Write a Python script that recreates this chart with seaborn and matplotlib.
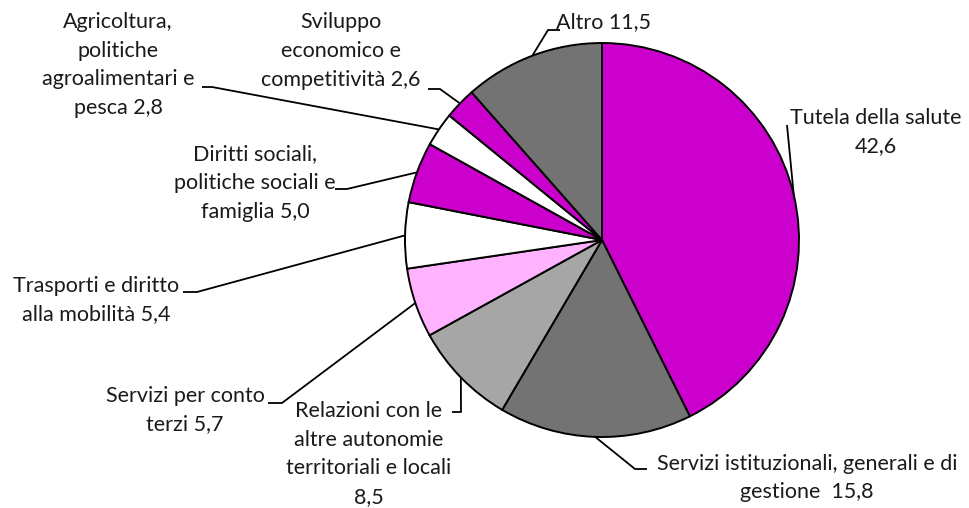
import matplotlib
matplotlib.use("Agg")
import matplotlib.pyplot as plt
import numpy as np
import seaborn as sns

# Spending shares by mission (%)
names = [
    "Tutela della salute",
    "Servizi istituzionali, generali e di\ngestione",
    "Relazioni con le\naltre autonomie\nterritoriali e locali",
    "Servizi per conto\nterzi",
    "Trasporti e diritto\nalla mobilità",
    "Diritti sociali,\npolitiche sociali e\nfamiglia",
    "Agricoltura,\npolitiche\nagroalimentari e\npesca",
    "Sviluppo\neconomico e\ncompetitività",
    "Altro",
]
values = [42.6, 15.8, 8.5, 5.7, 5.4, 5.0, 2.8, 2.6, 11.5]
value_sep = ["\n", "  ", "\n", " ", " ", " ", " ", " ", " "]
colors = ["#CC00CC", "#737373", "#A6A6A6", "#FFB3FF", "#FFFFFF",
          "#CC00CC", "#FFFFFF", "#CC00CC", "#737373"]

# Label placement (pixel coordinates, y downward)
label_xy = [(876, 132), (807, 478), (369, 454), (185, 410), (96, 300),
            (255, 183), (118, 65), (341, 51), (604, 22)]
# Leader line paths: from the slice edge through these points
leader_pts = [
    [(787, 125)],
    [(635, 469), (647, 469)],
    [(461, 412), (452, 412)],
    [(282, 403), (268, 403)],
    [(197, 292), (183, 292)],
    [(347, 189), (335, 189)],
    [(212, 87), (202, 87)],
    [(440, 89), (428, 89)],
    [(548, 30), (560, 30)],
]

sns.set_theme(style="white")
plt.rcParams["font.family"] = ["Lato", "DejaVu Sans"]

W, H = 970, 508
fig = plt.figure(figsize=(W / 100, H / 100), dpi=100)
ax = fig.add_axes([0, 0, 1, 1])

cx, cy, r = 602, 240, 197
wedges, _ = ax.pie(
    values, colors=colors, startangle=-90, counterclock=True,
    center=(cx, cy), radius=r,
    wedgeprops=dict(edgecolor="black", linewidth=1.4),
)
ax.set_xlim(0, W)
ax.set_ylim(H, 0)
ax.set_aspect("equal")
ax.axis("off")

for w, name, v, sep, (tx, ty), pts in zip(
        wedges, names, values, value_sep, label_xy, leader_pts):
    mid = np.deg2rad((w.theta1 + w.theta2) / 2)
    ax0 = cx + r * np.cos(mid)
    ay0 = cy + r * np.sin(mid)
    xs = [ax0] + [p[0] for p in pts]
    ys = [ay0] + [p[1] for p in pts]
    ax.plot(xs, ys, color="black", lw=1.3, solid_capstyle="butt")
    text = f"{name}{sep}{v:.1f}".replace(".", ",")
    ax.text(tx, ty, text, ha="center", va="center", multialignment="center",
            fontsize=15.5, color="#1a1a1a", linespacing=1.55)

fig.savefig("out.png", dpi=100)
